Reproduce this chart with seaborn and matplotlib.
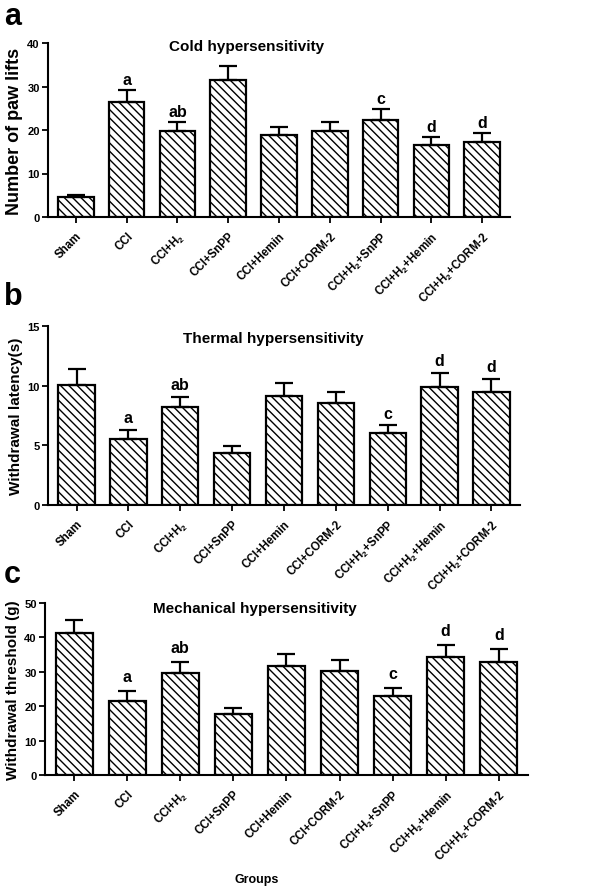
import matplotlib
matplotlib.use("Agg")
import matplotlib.pyplot as plt
import seaborn as sns
import pandas as pd
import numpy as np

sns.set_theme(style="ticks")
plt.rcParams['font.family'] = ['Liberation Sans', 'DejaVu Sans']
plt.rcParams['mathtext.fontset'] = 'custom'
plt.rcParams['mathtext.rm'] = 'Liberation Sans:bold'
plt.rcParams['mathtext.bf'] = 'Liberation Sans:bold'
plt.rcParams['mathtext.it'] = 'Liberation Sans:bold'
plt.rcParams['hatch.linewidth'] = 1.0
for k in ['text.color', 'axes.labelcolor', 'xtick.color', 'ytick.color', 'axes.edgecolor']:
    plt.rcParams[k] = 'black'

groups = ["Sham", "CCI", "CCI+H$_2$", "CCI+SnPP", "CCI+Hemin", "CCI+CORM-2",
          "CCI+H$_2$+SnPP", "CCI+H$_2$+Hemin", "CCI+H$_2$+CORM-2"]

cold_mean = [4.6, 26.4, 19.8, 31.4, 18.8, 19.8, 22.4, 16.5, 17.3]
cold_err = [0.5, 2.9, 2.1, 3.2, 2.0, 2.1, 2.5, 2.0, 2.0]
cold_sig = ["", "a", "ab", "", "", "", "c", "d", "d"]

thermal_mean = [10.06, 5.57, 8.22, 4.32, 9.11, 8.58, 6.02, 9.89, 9.5]
thermal_err = [1.34, 0.75, 0.86, 0.64, 1.09, 0.92, 0.67, 1.21, 1.1]
thermal_sig = ["", "a", "ab", "", "", "", "c", "d", "d"]

mech_mean = [41.3, 21.6, 29.6, 17.7, 31.7, 30.1, 23.1, 34.2, 32.9]
mech_err = [3.7, 2.7, 3.2, 1.7, 3.4, 3.3, 2.3, 3.7, 3.6]
mech_sig = ["", "a", "ab", "", "", "", "c", "d", "d"]

panels = [
    dict(mean=cold_mean, err=cold_err, sig=cold_sig, ylabel="Number of paw lifts",
         title="Cold hypersensitivity", ylim=40, yticks=[0, 10, 20, 30, 40],
         pos=[48, 44, 510, 218], tpos=(0.43, 0.983), label="a", lpos=(4, 2),
         ylsize=13, off=2),
    dict(mean=thermal_mean, err=thermal_err, sig=thermal_sig, ylabel="Withdrawal latency(s)",
         title="Thermal hypersensitivity", ylim=15, yticks=[0, 5, 10, 15],
         pos=[48, 327, 520, 506], tpos=(0.477, 0.933), label="b", lpos=(4, 282),
         ylsize=11, off=3),
    dict(mean=mech_mean, err=mech_err, sig=mech_sig, ylabel="Withdrawal threshold (g)",
         title="Mechanical hypersensitivity", ylim=50, yticks=[0, 10, 20, 30, 40, 50],
         pos=[45, 604, 528, 776], tpos=(0.435, 0.971), label="c", lpos=(4, 560),
         ylsize=11, off=5),
]

W, H = 613, 887
fig = plt.figure(figsize=(W / 100, H / 100), dpi=100)

for p in panels:
    l, t, r, b = p["pos"]
    ax = fig.add_axes([l / W, 1 - b / H, (r - l) / W, (b - t) / H])
    df = pd.DataFrame({"group": groups, "value": p["mean"]})
    sns.barplot(data=df, x="group", y="value", ax=ax, color="white", saturation=1,
                edgecolor="black", linewidth=1.6, width=0.7, errorbar=None,
                hatch="\\\\\\\\")
    x = np.arange(len(groups))
    ax.errorbar(x, p["mean"], yerr=[np.zeros(len(groups)), p["err"]], fmt="none",
                ecolor="black", elinewidth=1.6, capsize=6.5, capthick=1.6, zorder=1)
    for xi, m, e, s in zip(x, p["mean"], p["err"], p["sig"]):
        if s:
            ax.annotate(s, (xi, m + e), xytext=(0, p["off"]), textcoords="offset points",
                        ha="center", va="bottom", fontsize=11.5, fontweight="bold")
    ax.set_xlim(-0.55, len(groups) - 0.45)
    ax.set_ylim(0, p["ylim"])
    ax.set_yticks(p["yticks"])
    ax.set_yticklabels([str(v) for v in p["yticks"]], fontsize=8, fontweight="bold")
    ax.set_xticks(x)
    ax.set_xticklabels(groups, rotation=45, ha="right", rotation_mode="anchor",
                       fontsize=8.3, fontweight="bold")
    ax.set_xlabel("")
    ax.set_ylabel(p["ylabel"], fontsize=p["ylsize"], fontweight="bold", labelpad=3)
    ax.text(p["tpos"][0], p["tpos"][1], p["title"], transform=ax.transAxes,
            ha="center", va="center", fontsize=11, fontweight="bold")
    for sp in ["top", "right"]:
        ax.spines[sp].set_visible(False)
    for sp in ["left", "bottom"]:
        ax.spines[sp].set_linewidth(1.5)
        ax.spines[sp].set_color("black")
    ax.tick_params(axis="both", width=1.3, length=4, color="black", pad=2)
    ax.tick_params(axis="x", pad=5)
    ax.set_facecolor("white")
    fig.text(p["lpos"][0] / W, 1 - p["lpos"][1] / H, p["label"], ha="left", va="top",
             fontsize=22, fontweight="bold")

fig.text(257 / W, 1 - 880 / H, "Groups", ha="center", va="center", fontsize=9,
         fontweight="bold")

fig.savefig("out.png", dpi=100, facecolor="white")
